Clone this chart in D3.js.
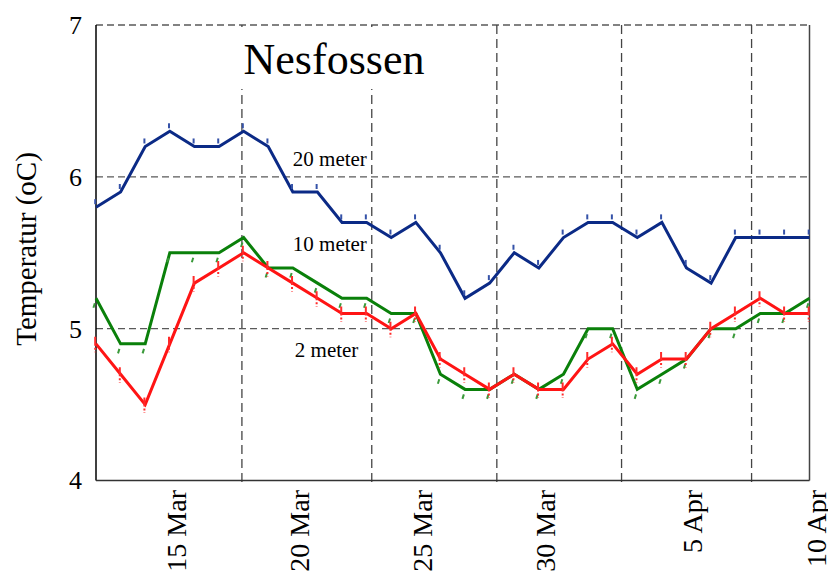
<!DOCTYPE html>
<html>
<head>
<meta charset="utf-8">
<script src="https://cdn.jsdelivr.net/npm/d3@7"></script>
<style>
  body { margin: 0; background: #fff; }
  svg { display: block; font-family: "Liberation Serif", "Times New Roman", serif; }
</style>
</head>
<body>
<svg id="chart"></svg>
<script>
// Data
const days = [
  "2013-03-12", "2013-03-13", "2013-03-14", "2013-03-15", "2013-03-16", "2013-03-17",
  "2013-03-18", "2013-03-19", "2013-03-20", "2013-03-21", "2013-03-22", "2013-03-23",
  "2013-03-24", "2013-03-25", "2013-03-26", "2013-03-27", "2013-03-28", "2013-03-29",
  "2013-03-30", "2013-03-31", "2013-04-01", "2013-04-02", "2013-04-03", "2013-04-04",
  "2013-04-05", "2013-04-06", "2013-04-07", "2013-04-08", "2013-04-09", "2013-04-10"
];
const temp20m = [5.8, 5.9, 6.2, 6.3, 6.2, 6.2, 6.3, 6.2, 5.9, 5.9, 5.7, 5.7, 5.6, 5.7, 5.5,
                 5.2, 5.3, 5.5, 5.4, 5.6, 5.7, 5.7, 5.6, 5.7, 5.4, 5.3, 5.6, 5.6, 5.6, 5.6];
const temp10m = [5.2, 4.9, 4.9, 5.5, 5.5, 5.5, 5.6, 5.4, 5.4, 5.3, 5.2, 5.2, 5.1, 5.1, 4.7,
                 4.6, 4.6, 4.7, 4.6, 4.7, 5.0, 5.0, 4.6, 4.7, 4.8, 5.0, 5.0, 5.1, 5.1, 5.2];
const temp2m  = [4.9, 4.7, 4.5, 4.9, 5.3, 5.4, 5.5, 5.4, 5.3, 5.2, 5.1, 5.1, 5.0, 5.1, 4.8,
                 4.7, 4.6, 4.7, 4.6, 4.6, 4.8, 4.9, 4.7, 4.8, 4.8, 5.0, 5.1, 5.2, 5.1, 5.1];
const labelDays = ["2013-03-15", "2013-03-20", "2013-03-25", "2013-03-30", "2013-04-05", "2013-04-10"];
const gridTimes = ["2013-03-17 22:20", "2013-03-23 05:00", "2013-03-28 07:00", "2013-04-02 08:40", "2013-04-07 15:30"];
const yTicks = [4, 5, 6, 7];

const parseDay = d3.timeParse("%Y-%m-%d");
const parseTime = d3.timeParse("%Y-%m-%d %H:%M");
const dates = days.map(parseDay);

const series = [
  {name: "20 meter", values: temp20m, color: "#0b2a86", marker: "top"},
  {name: "10 meter", values: temp10m, color: "#0a800a", marker: "slant"},
  {name: "2 meter",  values: temp2m,  color: "#ff1414", marker: "cross"}
];

// Chart
const W = 828, H = 575;
const plot = {left: 96, right: 809.5, top: 25, bottom: 480.5};

const svg = d3.select("#chart").attr("width", W).attr("height", H);

// Scales
const xScale = d3.scaleTime()
    .domain([dates[0], dates[dates.length - 1]])
    .range([plot.left, plot.right]);
const yScale = d3.scaleLinear()
    .domain([4, 7])
    .range([plot.bottom, plot.top]);

// Gridlines
svg.append("g")
    .selectAll("line")
    .data(yTicks.filter(function(d) { return d > 4; }))
    .enter()
    .append("line")
    .attr("x1", plot.left).attr("x2", plot.right)
    .attr("y1", function(d) { return yScale(d); })
    .attr("y2", function(d) { return yScale(d); })
    .attr("stroke", "#5a5a5a")
    .attr("stroke-width", 1.4)
    .attr("stroke-dasharray", "7,4");

svg.append("g")
    .selectAll("line")
    .data(gridTimes.map(parseTime))
    .enter()
    .append("line")
    .attr("x1", function(d) { return xScale(d); })
    .attr("x2", function(d) { return xScale(d); })
    .attr("y1", plot.top).attr("y2", plot.bottom + 6)
    .attr("stroke", "#444")
    .attr("stroke-width", 1.3)
    .attr("stroke-dasharray", "9,5");

// Title box hides the grid behind it
svg.append("rect")
    .attr("x", 225).attr("y", plot.top + 2)
    .attr("width", 215).attr("height", 62)
    .attr("fill", "#fff");

svg.append("text")
    .attr("x", 334).attr("y", 74)
    .attr("text-anchor", "middle")
    .attr("font-size", 44)
    .text("Nesfossen");

// Axes frame
svg.append("line")
    .attr("x1", plot.left).attr("x2", plot.left)
    .attr("y1", plot.top).attr("y2", plot.bottom)
    .attr("stroke", "#000").attr("stroke-width", 1.5);
svg.append("line")
    .attr("x1", plot.right).attr("x2", plot.right)
    .attr("y1", plot.top).attr("y2", plot.bottom)
    .attr("stroke", "#444").attr("stroke-width", 1.5);
svg.append("line")
    .attr("x1", plot.left).attr("x2", plot.right)
    .attr("y1", plot.bottom).attr("y2", plot.bottom)
    .attr("stroke", "#333").attr("stroke-width", 1.6);

// Y axis labels
svg.append("g")
    .selectAll("text")
    .data(yTicks)
    .enter()
    .append("text")
    .attr("x", 82)
    .attr("y", function(d) { return yScale(d); })
    .attr("dy", "0.34em")
    .attr("text-anchor", "end")
    .attr("font-size", 26)
    .text(function(d) { return d; });

svg.append("text")
    .attr("transform", "translate(36,249) rotate(-90)")
    .attr("text-anchor", "middle")
    .attr("font-size", 29)
    .text("Temperatur (oC)");

// X axis labels
const fmt = d3.timeFormat("%-d %b");
svg.append("g")
    .selectAll("text")
    .data(labelDays.map(parseDay))
    .enter()
    .append("text")
    .attr("transform", function(d) { return "translate(" + (xScale(d) + 16) + ",490) rotate(-90)"; })
    .attr("text-anchor", "end")
    .attr("font-size", 28)
    .text(function(d) { return fmt(d); });

// Lines
const line = d3.line()
    .x(function(d) { return xScale(d.date); })
    .y(function(d) { return yScale(d.value); });

const groups = svg.selectAll(".series")
    .data(series)
    .enter()
    .append("g")
    .attr("class", "series");

groups.append("path")
    .attr("fill", "none")
    .attr("stroke", function(s) { return s.color; })
    .attr("stroke-width", 3)
    .attr("stroke-linejoin", "miter")
    .attr("d", function(s) {
      return line(s.values.map(function(v, i) { return {date: dates[i], value: v}; }));
    });

// Markers (small dashes as in the original)
groups.each(function(s) {
  const g = d3.select(this);
  const pts = s.values.map(function(v, i) { return [xScale(dates[i]), yScale(v)]; });
  g.selectAll("line.mk")
      .data(pts)
      .enter()
      .append("line")
      .attr("class", "mk")
      .attr("x1", function(p) { return s.marker === "slant" ? p[0] - 2.6 : p[0] - 0.8; })
      .attr("x2", function(p) { return s.marker === "slant" ? p[0] - 1.2 : p[0] - 0.8; })
      .attr("y1", function(p) {
        if (s.marker === "top") return p[1] - 8;
        if (s.marker === "slant") return p[1] + 9.5;
        return p[1] - 7;
      })
      .attr("y2", function(p) {
        if (s.marker === "top") return p[1] - 3;
        if (s.marker === "slant") return p[1] + 5;
        return p[1] + 8.5;
      })
      .attr("stroke", function() {
        if (s.marker === "top") return "#3552a8";
        if (s.marker === "slant") return "#3a9a3a";
        return "#ff2a2a";
      })
      .attr("stroke-width", 2)
      .attr("stroke-dasharray", s.marker === "cross" ? "9,2,2,2" : null);
});

// Series labels
svg.append("g")
    .selectAll("text")
    .data([
      {text: "20 meter", y: 6.07},
      {text: "10 meter", y: 5.51},
      {text: "2 meter", y: 4.815}
    ])
    .enter()
    .append("text")
    .attr("x", function(d, i) { return xScale(dates[8]) + (i === 2 ? 2 : 0); })
    .attr("y", function(d) { return yScale(d.y); })
    .attr("font-size", 21)
    .text(function(d) { return d.text; });
</script>
</body>
</html>
